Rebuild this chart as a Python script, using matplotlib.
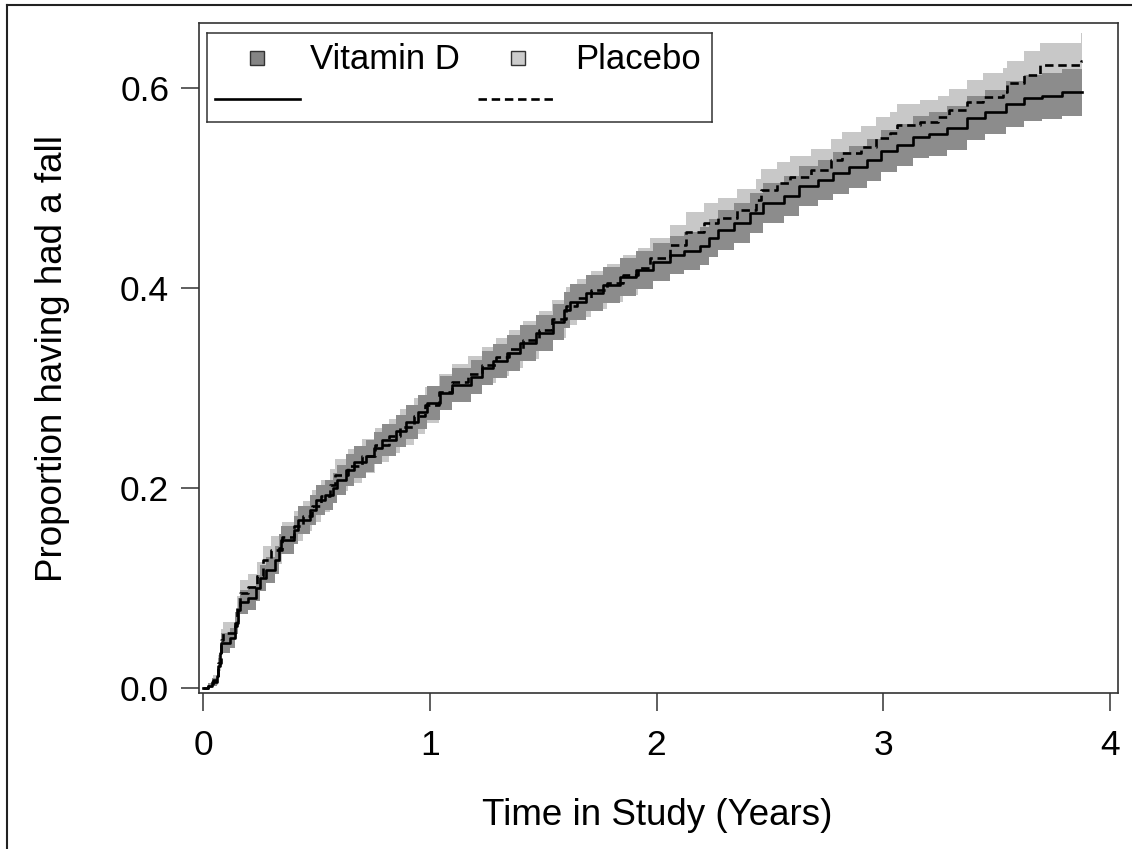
import matplotlib
matplotlib.use("Agg")
import matplotlib.pyplot as plt
from matplotlib.lines import Line2D

plt.rcParams['font.family'] = ['Liberation Sans', 'DejaVu Sans']

# ---------------- data ----------------
vit_t = [0.000, 0.020, 0.040, 0.060, 0.066, 0.075, 0.080, 0.120, 0.140, 0.155,
         0.163, 0.200, 0.235, 0.250, 0.280, 0.318, 0.335, 0.345, 0.400, 0.420,
         0.470, 0.500, 0.540, 0.575, 0.590, 0.630, 0.665, 0.720, 0.755, 0.790,
         0.850, 0.895, 0.950, 0.990, 1.045, 1.100, 1.180, 1.230, 1.280, 1.340,
         1.400, 1.470, 1.545, 1.590, 1.620, 1.690, 1.765, 1.840, 1.910, 1.985,
         2.060, 2.120, 2.190, 2.230, 2.270, 2.340, 2.410, 2.470, 2.560, 2.630,
         2.710, 2.780, 2.850, 2.930, 2.990, 3.060, 3.130, 3.200, 3.280, 3.370,
         3.450, 3.540, 3.620, 3.700, 3.790, 3.877]
vit_p = [0.000, 0.002, 0.006, 0.012, 0.022, 0.035, 0.045, 0.050, 0.065, 0.078,
         0.086, 0.090, 0.100, 0.110, 0.118, 0.128, 0.140, 0.148, 0.158, 0.168,
         0.178, 0.188, 0.193, 0.200, 0.208, 0.218, 0.226, 0.232, 0.240, 0.248,
         0.257, 0.266, 0.276, 0.285, 0.295, 0.303, 0.311, 0.320, 0.327, 0.335,
         0.345, 0.355, 0.366, 0.378, 0.386, 0.395, 0.403, 0.411, 0.418, 0.426,
         0.433, 0.437, 0.442, 0.450, 0.458, 0.465, 0.475, 0.485, 0.492, 0.502,
         0.508, 0.515, 0.521, 0.528, 0.537, 0.543, 0.551, 0.554, 0.560, 0.570,
         0.576, 0.584, 0.590, 0.592, 0.596, 0.596]
vit_lo = [0.000, 0.000, 0.002, 0.006, 0.014, 0.026, 0.035, 0.040, 0.054, 0.066,
          0.074, 0.078, 0.087, 0.097, 0.105, 0.114, 0.126, 0.134, 0.144, 0.154,
          0.163, 0.173, 0.178, 0.185, 0.193, 0.202, 0.210, 0.216, 0.224, 0.232,
          0.241, 0.249, 0.259, 0.268, 0.278, 0.286, 0.294, 0.303, 0.310, 0.317,
          0.327, 0.337, 0.348, 0.360, 0.368, 0.377, 0.385, 0.392, 0.399, 0.407,
          0.414, 0.418, 0.423, 0.431, 0.438, 0.445, 0.455, 0.465, 0.472, 0.482,
          0.488, 0.494, 0.500, 0.507, 0.516, 0.522, 0.530, 0.532, 0.538, 0.548,
          0.554, 0.561, 0.567, 0.569, 0.572, 0.572]
vit_hi = [0.000, 0.005, 0.010, 0.018, 0.030, 0.044, 0.055, 0.060, 0.076, 0.090,
          0.098, 0.102, 0.113, 0.123, 0.131, 0.142, 0.154, 0.162, 0.172, 0.182,
          0.193, 0.203, 0.208, 0.215, 0.223, 0.234, 0.242, 0.248, 0.256, 0.264,
          0.273, 0.283, 0.293, 0.302, 0.312, 0.320, 0.328, 0.337, 0.344, 0.353,
          0.363, 0.373, 0.384, 0.396, 0.404, 0.413, 0.421, 0.430, 0.437, 0.445,
          0.452, 0.456, 0.461, 0.469, 0.478, 0.485, 0.495, 0.505, 0.512, 0.522,
          0.528, 0.536, 0.542, 0.549, 0.558, 0.564, 0.572, 0.576, 0.582, 0.592,
          0.598, 0.607, 0.613, 0.615, 0.619, 0.619]

pla_t = [0.000, 0.020, 0.045, 0.065, 0.080, 0.090, 0.140, 0.150, 0.163, 0.200,
         0.240, 0.265, 0.300, 0.350, 0.400, 0.440, 0.480, 0.520, 0.560, 0.580,
         0.640, 0.700, 0.760, 0.820, 0.870, 0.930, 0.980, 1.040, 1.100, 1.170,
         1.230, 1.290, 1.350, 1.410, 1.480, 1.540, 1.600, 1.650, 1.710, 1.780,
         1.850, 1.920, 1.970, 2.060, 2.130, 2.210, 2.270, 2.355, 2.440, 2.460,
         2.530, 2.590, 2.680, 2.770, 2.820, 2.900, 2.970, 3.030, 3.060, 3.160,
         3.240, 3.290, 3.370, 3.440, 3.530, 3.545, 3.620, 3.690, 3.870, 3.877]
pla_p = [0.000, 0.002, 0.008, 0.025, 0.048, 0.055, 0.062, 0.080, 0.095, 0.101,
         0.112, 0.128, 0.138, 0.151, 0.162, 0.172, 0.182, 0.192, 0.203, 0.213,
         0.222, 0.232, 0.243, 0.252, 0.261, 0.272, 0.283, 0.296, 0.306, 0.314,
         0.323, 0.331, 0.339, 0.348, 0.358, 0.369, 0.382, 0.390, 0.398, 0.405,
         0.413, 0.420, 0.430, 0.443, 0.456, 0.465, 0.470, 0.478, 0.488, 0.498,
         0.505, 0.511, 0.518, 0.528, 0.535, 0.541, 0.550, 0.555, 0.563, 0.566,
         0.571, 0.578, 0.586, 0.591, 0.596, 0.605, 0.613, 0.623, 0.627, 0.627]
pla_lo = [0.000, 0.000, 0.003, 0.017, 0.037, 0.044, 0.050, 0.068, 0.082, 0.088,
          0.098, 0.114, 0.124, 0.136, 0.147, 0.157, 0.166, 0.176, 0.187, 0.197,
          0.205, 0.215, 0.226, 0.235, 0.243, 0.254, 0.265, 0.278, 0.288, 0.296,
          0.305, 0.312, 0.320, 0.329, 0.339, 0.350, 0.363, 0.371, 0.379, 0.386,
          0.393, 0.400, 0.410, 0.423, 0.436, 0.445, 0.450, 0.457, 0.467, 0.477,
          0.484, 0.490, 0.497, 0.507, 0.514, 0.520, 0.529, 0.534, 0.542, 0.545,
          0.550, 0.557, 0.565, 0.569, 0.574, 0.583, 0.591, 0.600, 0.599, 0.599]
pla_hi = [0.000, 0.005, 0.013, 0.033, 0.059, 0.066, 0.074, 0.092, 0.108, 0.114,
          0.126, 0.142, 0.152, 0.166, 0.177, 0.187, 0.198, 0.208, 0.219, 0.229,
          0.239, 0.249, 0.260, 0.269, 0.279, 0.290, 0.301, 0.314, 0.324, 0.332,
          0.341, 0.350, 0.358, 0.367, 0.377, 0.388, 0.401, 0.409, 0.417, 0.424,
          0.433, 0.440, 0.450, 0.463, 0.476, 0.485, 0.490, 0.499, 0.509, 0.519,
          0.526, 0.532, 0.539, 0.549, 0.556, 0.562, 0.571, 0.576, 0.584, 0.588,
          0.592, 0.599, 0.608, 0.615, 0.620, 0.627, 0.637, 0.645, 0.655, 0.655]

x_ticks = [0, 1, 2, 3, 4]
y_ticks = [0.0, 0.2, 0.4, 0.6]
y_ticklabels = ["0.0", "0.2", "0.4", "0.6"]
series_names = ["Vitamin D", "Placebo"]

# ---------------- styling ----------------
W, H = 1132, 849
DARK = '#8c8c8c'
LIGHT = '#c8c8c8'
FRAME = '#333333'

fig = plt.figure(figsize=(W / 100, H / 100), dpi=100)
fig.patch.set_facecolor('white')

def fx(px):
    return px / W

def fy(py):
    return 1 - py / H

ax = fig.add_axes([fx(199), fy(693), fx(1118) - fx(199), fy(23) - fy(693)])

ax.fill_between(pla_t, pla_lo, pla_hi, step='post', color=LIGHT, lw=0)
ax.fill_between(vit_t, vit_lo, vit_hi, step='post', color=DARK, lw=0)
ax.step(pla_t, pla_p, where='post', color='black', lw=1.9,
        linestyle=(0, (3.2, 1.8)))
ax.step(vit_t, vit_p, where='post', color='black', lw=1.9)

ax.set_xlim(-0.0176, 4.035)
ax.set_ylim(-0.005, 0.665)
ax.set_xticks(x_ticks)
ax.set_yticks(y_ticks)
ax.set_yticklabels(y_ticklabels)
ax.tick_params(axis='both', direction='out', length=13, width=1.1,
               color=FRAME, labelsize=25.5)
ax.tick_params(axis='x', pad=13)
ax.tick_params(axis='y', pad=8.5)
for s in ax.spines.values():
    s.set_color(FRAME)
    s.set_linewidth(1.2)

fig.text(fx(657), fy(825), "Time in Study (Years)", ha='center', va='baseline',
         fontsize=26.5)
fig.text(fx(53), fy(358), "Proportion having had a fall", ha='center',
         va='center', rotation=90, fontsize=26.5)

# outer frame (left and top visible)
fig.add_artist(Line2D([fx(7), fx(7)], [0, fy(5)], transform=fig.transFigure,
                      color='#222222', lw=1.5))
fig.add_artist(Line2D([fx(7), 1], [fy(5), fy(5)], transform=fig.transFigure,
                      color='#222222', lw=1.5))

# legend drawn in its own small axes (pixel units inside)
lg = fig.add_axes([fx(207), fy(122), fx(712) - fx(207), fy(33) - fy(122)])
lg.set_xlim(0, 505)
lg.set_ylim(89, 0)
lg.set_xticks([])
lg.set_yticks([])
for s in lg.spines.values():
    s.set_color(FRAME)
    s.set_linewidth(1.1)
lg.plot([50], [25], marker='s', ms=10.0, mfc='#858585', mec='#333333', mew=1.0)
lg.plot([311], [25], marker='s', ms=10.0, mfc='#cccccc', mec='#333333', mew=1.0)
lg.text(103, 36, series_names[0], ha='left', va='baseline', fontsize=25)
lg.text(368, 36, series_names[1], ha='left', va='baseline', fontsize=25)
lg.plot([8, 93], [66, 66], color='black', lw=1.9)
lg.plot([271, 348], [66, 66], color='black', lw=1.9, linestyle=(0, (3.2, 1.8)))

fig.savefig("out.png", dpi=100)
